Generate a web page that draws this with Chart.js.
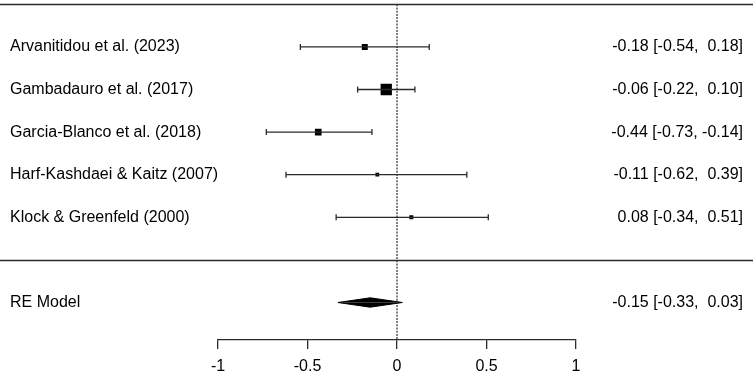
<!DOCTYPE html>
<html><head><meta charset="utf-8">
<script src="https://cdn.jsdelivr.net/npm/chart.js@4/dist/chart.umd.min.js"></script>
<style>html,body{margin:0;padding:0;background:#fff;overflow:hidden;}canvas{display:block;}</style>
</head><body>
<canvas id="c" width="753" height="375"></canvas>
<script>
// ---- data ----
const studies = ['Arvanitidou et al. (2023)', 'Gambadauro et al. (2017)', 'Garcia-Blanco et al. (2018)', 'Harf-Kashdaei & Kaitz (2007)', 'Klock & Greenfeld (2000)'];
const estimates = [-0.18, -0.06, -0.44, -0.11, 0.08];
const ciLower = [-0.54, -0.22, -0.73, -0.62, -0.34];
const ciUpper = [0.18, 0.10, -0.14, 0.39, 0.51];
const weights = [18.9, 35.6, 21.1, 11.7, 12.6];
const pooledLabel = 'RE Model';
const pooledEstimate = [-0.15];
const pooledLower = [-0.33];
const pooledUpper = [0.03];
const xTicks = [-1, -0.5, 0, 0.5, 1];
const xTickLabels = ['-1', '-0.5', '0', '0.5', '1'];

// ---- layout helpers ----
const k = studies.length;
const rows = studies.map((s, i) => k - i);
const topRow = k + 1;
const dividerRow = 0;
const pooledRow = -1;
const yMin = -1.88;
const diamondHalf = 0.11;
const sizePerWeight = 0.317;
const FONT = '"Liberation Sans", Arial, Helvetica, sans-serif';
const INK = '#000';
const LINE = '#2b2b2b';

const fmt = v => (v < 0 ? v.toFixed(2) : ' ' + v.toFixed(2));
const annot = (e, l, u) => fmt(e) + ' [' + fmt(l) + ', ' + fmt(u) + ']';

const datasets = [];
// reference line at 0
datasets.push({
  data: [{x: 0, y: topRow}, {x: 0, y: yMin}],
  borderColor: LINE, borderWidth: 1.2, borderDash: [2, 1.2], pointRadius: 0, showLine: true, fill: false
});
// CI lines
studies.forEach((s, i) => {
  datasets.push({
    data: [{x: ciLower[i], y: rows[i]}, {x: ciUpper[i], y: rows[i]}],
    borderColor: LINE, borderWidth: 1.3, showLine: true, fill: false,
    pointStyle: 'line', pointRotation: 90, pointRadius: 3, pointBorderWidth: 1.3,
    pointBorderColor: LINE, pointHoverRadius: 3
  });
});
// squares
datasets.push({
  data: estimates.map((e, i) => ({x: e, y: rows[i]})),
  showLine: false, pointStyle: 'rect', backgroundColor: INK, borderWidth: 0,
  pointRadius: weights.map(w => (w * sizePerWeight) / Math.SQRT2),
  pointBorderWidth: 0
});
// pooled diamond (upper and lower halves filled to the row)
[1, -1].forEach(sgn => {
  datasets.push({
    data: [
      {x: pooledLower[0], y: pooledRow},
      {x: pooledEstimate[0], y: pooledRow + sgn * diamondHalf},
      {x: pooledUpper[0], y: pooledRow}
    ],
    showLine: true, borderColor: INK, borderWidth: 1, backgroundColor: INK,
    fill: {value: pooledRow}, pointRadius: 0, tension: 0
  });
});

const forestText = {
  id: 'forestText',
  afterDatasetsDraw(chart) {
    const {ctx, scales: {y}} = chart;
    ctx.save();
    ctx.strokeStyle = LINE;
    ctx.lineWidth = 1.3;
    [topRow, dividerRow].forEach(v => {
      const py = Math.round(y.getPixelForValue(v)) + 0.5;
      ctx.beginPath(); ctx.moveTo(0, py); ctx.lineTo(chart.width, py); ctx.stroke();
    });
    ctx.font = '16px ' + FONT;
    ctx.fillStyle = INK;
    ctx.textBaseline = 'middle';
    studies.forEach((s, i) => {
      const py = y.getPixelForValue(rows[i]);
      ctx.textAlign = 'left'; ctx.fillText(s, 10, py);
      ctx.textAlign = 'right'; ctx.fillText(annot(estimates[i], ciLower[i], ciUpper[i]), 743, py);
    });
    const pp = y.getPixelForValue(pooledRow);
    ctx.textAlign = 'left'; ctx.fillText(pooledLabel, 10, pp);
    ctx.textAlign = 'right'; ctx.fillText(annot(pooledEstimate[0], pooledLower[0], pooledUpper[0]), 743, pp);
    ctx.restore();
  }
};

new Chart(document.getElementById('c'), {
  type: 'line',
  data: {datasets},
  plugins: [forestText],
  options: {
    responsive: false, animation: false, devicePixelRatio: 1,
    layout: {padding: {left: 218, right: 177, top: 2, bottom: 0}},
    plugins: {legend: {display: false}, tooltip: {enabled: false}},
    events: [],
    scales: {
      x: {
        type: 'linear', min: -1, max: 1,
        afterBuildTicks: s => { s.ticks = xTicks.map(v => ({value: v})); },
        afterFit: s => { s.height = 35; },
        ticks: {
          callback: (v, i) => xTickLabels[i], autoSkip: false, maxRotation: 0,
          font: {family: FONT, size: 16}, color: INK, padding: 8
        },
        grid: {drawOnChartArea: false, drawTicks: true, tickLength: 9, color: LINE, lineWidth: 1.3},
        border: {display: true, color: LINE, width: 1.3}
      },
      y: {type: 'linear', min: yMin, max: topRow, display: false}
    }
  }
});
</script>
</body></html>
